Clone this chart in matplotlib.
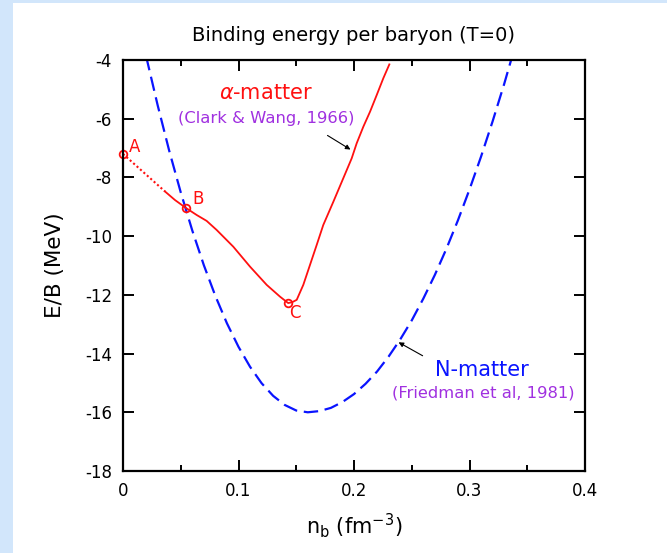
#!/usr/bin/env python3

import matplotlib as mpl
import matplotlib.pyplot as plt
from matplotlib.patches import Rectangle

mpl.rcParams['axes.unicode_minus'] = False

# N-matter (Friedman et al, 1981)
n_nuc = [0.02, 0.03, 0.04, 0.05, 0.06, 0.07, 0.08, 0.09, 0.10, 0.11, 0.12, 0.13, 0.14, 0.15,
         0.16, 0.17, 0.18, 0.19, 0.20, 0.21, 0.22, 0.23, 0.24, 0.25, 0.26, 0.27, 0.28, 0.29,
         0.30, 0.31, 0.32, 0.33, 0.34]
e_nuc = [-3.87, -5.54, -7.09, -8.51, -9.81, -10.99, -12.04, -12.97, -13.77, -14.45, -15.01,
         -15.44, -15.75, -15.94, -16.0, -15.96, -15.85, -15.65, -15.38, -15.03, -14.61, -14.10,
         -13.52, -12.87, -12.13, -11.32, -10.43, -9.46, -8.41, -7.29, -6.09, -4.82, -3.46]

# alpha-matter (Clark & Wang, 1966)
n_alpha_dot = [0.0, 0.0364]
e_alpha_dot = [-7.2, -8.48]
n_alpha = [0.0364, 0.045, 0.0545, 0.0638, 0.0724, 0.0811, 0.0955, 0.110, 0.1244, 0.1359,
           0.143, 0.1465, 0.1504, 0.1561, 0.1619, 0.1677, 0.1734, 0.1821, 0.1907, 0.198,
           0.2023, 0.2081, 0.2139, 0.2197, 0.2254, 0.2306]
e_alpha = [-8.48, -8.77, -9.04, -9.28, -9.48, -9.79, -10.36, -11.04, -11.66, -12.06,
           -12.28, -12.25, -12.17, -11.66, -10.98, -10.30, -9.62, -8.83, -8.03, -7.35,
           -6.84, -6.27, -5.76, -5.19, -4.62, -4.15]

pts_lab = ['A', 'B', 'C']
pts_n = [0.0, 0.0545, 0.143]
pts_e = [-7.2, -9.04, -12.28]

red = '#ff1010'
blue = '#0a14ff'
purple = '#a030e0'
frame = '#d2e6fb'

fig = plt.figure(figsize=(6.67, 5.53), dpi=100, facecolor='white')
fig.patches.append(Rectangle((0, 0), 13/667, 1, transform=fig.transFigure,
                             facecolor=frame, edgecolor='none', zorder=-10))
fig.patches.append(Rectangle((0, 1 - 3/553), 1, 3/553, transform=fig.transFigure,
                             facecolor=frame, edgecolor='none', zorder=-10))
ax = fig.add_axes([123/667, 1 - 471/553, 462/667, 411/553])
[b.set_linewidth(1.6) for b in ax.spines.values()]

ax.plot(n_nuc, e_nuc, color=blue, lw=1.6, dashes=(6.5, 3))
ax.plot(n_alpha_dot, e_alpha_dot, color=red, lw=1.5, ls=(0, (1, 1.2)))
ax.plot(n_alpha, e_alpha, color=red, lw=1.3)
ax.plot(pts_n, pts_e, ls='none', marker='o', ms=5.5, mfc='none', mec=red, mew=1.3,
        clip_on=False)

offs = [(0.005, 0.24), (0.0052, 0.31), (0.0007, -0.33)]
for lab, x, y, o in zip(pts_lab, pts_n, pts_e, offs):
    ax.text(x + o[0], y + o[1], lab, color=red, fontsize=12, ha='left', va='center')

ax.text(0.1234, -5.12, r'$\alpha$-matter', color=red, fontsize=15, ha='center', va='center')
ax.text(0.124, -5.98, '(Clark & Wang, 1966)', color=purple, fontsize=11.8,
        ha='center', va='center')
ax.annotate('', xy=(0.199, -7.1), xytext=(0.175, -6.52),
            arrowprops=dict(arrowstyle='-|>', color='black', lw=0.8, mutation_scale=7))

ax.text(0.311, -14.55, 'N-matter', color=blue, fontsize=15, ha='center', va='center')
ax.text(0.312, -15.34, '(Friedman et al, 1981)', color=purple, fontsize=11.8,
        ha='center', va='center')
ax.annotate('', xy=(0.2365, -13.57), xytext=(0.2615, -14.12),
            arrowprops=dict(arrowstyle='-|>', color='black', lw=0.8, mutation_scale=7))

ax.set_xlim(0, 0.4)
ax.set_ylim(-18, -4)
ax.set_xticks([0, 0.1, 0.2, 0.3, 0.4])
ax.set_xticklabels(['0', '0.1', '0.2', '0.3', '0.4'])
ax.set_xticks([0.05, 0.15, 0.25, 0.35], minor=True)
ax.set_yticks([-18, -16, -14, -12, -10, -8, -6, -4])
ax.tick_params(which='major', direction='in', length=8, width=1.4, top=True, right=True,
               labelsize=12, pad=8)
ax.tick_params(which='minor', direction='in', length=4, width=1.4, top=True)

ax.set_title('Binding energy per baryon (T=0)', fontsize=14, pad=14)
ax.set_ylabel('E/B (MeV)', fontsize=15.5, labelpad=14)
ax.set_xlabel(r'n$_\mathregular{b}$ (fm$^\mathregular{-3}$)', fontsize=15, labelpad=8)

fig.savefig('out.png', dpi=100)
